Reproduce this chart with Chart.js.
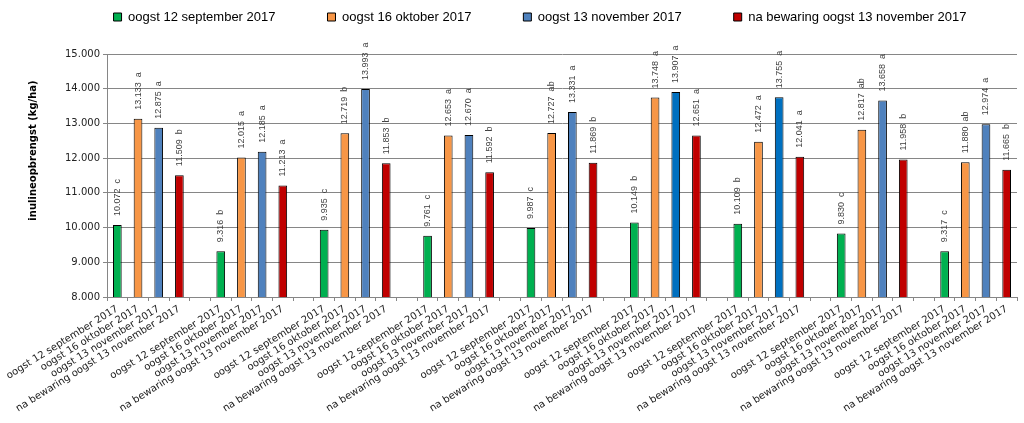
<!DOCTYPE html>
<html><head><meta charset="utf-8">
<script src="https://cdn.jsdelivr.net/npm/chart.js@4"></script>
<style>html,body{margin:0;padding:0;background:#fff}#wrap{width:1024px;height:423px}</style>
</head><body><div id="wrap"><canvas id="c" width="1024" height="423"></canvas></div>
<script>
// ---- data ----
const seriesNames = ['oogst 12 september 2017', 'oogst 16 oktober 2017', 'oogst 13 november 2017', 'na bewaring oogst 13 november 2017'];
const sep12 = [10072, 9316, 9935, 9761, 9987, 10149, 10109, 9830, 9317];
const okt16 = [13133, 12015, 12719, 12653, 12727, 13748, 12472, 12817, 11880];
const nov13 = [12875, 12185, 13993, 12670, 13331, 13907, 13755, 13658, 12974];
const naBewaring = [11509, 11213, 11853, 11592, 11869, 12651, 12041, 11958, 11665];
const sep12Letters = ['c', 'b', 'c', 'c', 'c', 'b', 'b', 'c', 'c'];
const okt16Letters = ['a', 'a', 'b', 'a', 'ab', 'a', 'a', 'ab', 'ab'];
const nov13Letters = ['a', 'a', 'a', 'a', 'a', 'a', 'a', 'a', 'a'];
const naBewaringLetters = ['b', 'a', 'b', 'b', 'b', 'a', 'a', 'b', 'b'];
const yMin = 8000, yMax = 15000, yStep = 1000;

// ---- styles ----
const green = '#00B050', orange = '#F79646', blue = '#4F81BD', darkBlue = '#0070C0', red = '#C00000';
const nov13Colors = [blue, blue, blue, blue, blue, darkBlue, darkBlue, blue, blue];

// ---- build category table: 4 bars per group, one empty category between groups ----
const nGroups = sep12.length;
const labels = [];
for (let g = 0; g < nGroups; g++) {
  seriesNames.forEach(n => labels.push(n));
  if (g < nGroups - 1) labels.push('');
}
function spread(values, s) {
  const out = new Array(labels.length).fill(null);
  values.forEach((v, g) => { out[g * 5 + s] = v; });
  return out;
}
function spreadArr(arr, s, fill) {
  const out = new Array(labels.length).fill(fill);
  arr.forEach((v, g) => { out[g * 5 + s] = v; });
  return out;
}
const seriesValues = [sep12, okt16, nov13, naBewaring];
const seriesLetters = [sep12Letters, okt16Letters, nov13Letters, naBewaringLetters];
const seriesColors = [green, orange, nov13Colors, red];
const legendColors = [green, orange, blue, red];

const datasets = seriesValues.map((vals, s) => ({
  label: seriesNames[s],
  data: spread(vals, s),
  letters: spreadArr(seriesLetters[s], s, ''),
  backgroundColor: Array.isArray(seriesColors[s]) ? spreadArr(seriesColors[s], s, blue) : seriesColors[s],
  borderColor: '#000',
  borderWidth: 1,
  grouped: false,
  categoryPercentage: 1,
  barPercentage: 0.42
}));

function fmt(v) {
  const s = String(Math.round(v));
  return s.replace(/\B(?=(\d{3})+(?!\d))/g, '.');
}

const valueLabels = {
  id: 'valueLabels',
  afterDatasetsDraw(chart) {
    const ctx = chart.ctx;
    ctx.save();
    ctx.font = '9px "Liberation Sans", Arial, sans-serif';
    ctx.fillStyle = '#404040';
    ctx.textAlign = 'left';
    ctx.textBaseline = 'middle';
    chart.data.datasets.forEach((ds, di) => {
      const meta = chart.getDatasetMeta(di);
      meta.data.forEach((el, i) => {
        const v = ds.data[i];
        if (v === null || v === undefined) return;
        ctx.save();
        ctx.translate(el.x, el.y - 9);
        ctx.rotate(-Math.PI / 2);
        ctx.fillText(fmt(v) + '  ' + ds.letters[i], 0, 0);
        ctx.restore();
      });
    });
    ctx.restore();
  }
};

function patchLegend(chart) {
  const lg = chart.legend;
  if (!lg || lg._patched) return;
  const orig = lg.fit;
  lg.fit = function () { orig.call(this); this.height = 54; };
  lg._patched = true;
}
const layoutTweak = {
  id: 'layoutTweak',
  beforeInit(chart) { patchLegend(chart); },
  beforeUpdate(chart) { patchLegend(chart); },
  afterLayout(chart) {
    const lg = chart.legend;
    if (lg) { lg.left = 56; lg.right = 1024; lg.top = 10.5 - 52; }
    const y = chart.scales.y;
    if (y && !y._titlePatched) {
      const o = y.drawTitle;
      y.drawTitle = function () {
        const c = this.ctx; c.save(); c.translate(0, -25); o.apply(this, arguments); c.restore();
      };
      y._titlePatched = true;
    }
  }
};

new Chart(document.getElementById('c'), {
  type: 'bar',
  data: { labels, datasets },
  options: {
    responsive: false,
    devicePixelRatio: 1,
    animation: false,
    layout: { padding: { left: 0, right: 7, top: 0, bottom: 0 } },
    plugins: {
      legend: {
        position: 'top',
        labels: {
          font: { family: '"Liberation Sans", Arial, sans-serif', size: 13 },
          color: '#000',
          boxWidth: 8,
          boxHeight: 8,
          padding: 52,
          generateLabels: chart => chart.data.datasets.map((d, i) => ({
            text: d.label, fillStyle: legendColors[i], strokeStyle: '#000', lineWidth: 1,
            hidden: false, datasetIndex: i, fontColor: '#000'
          }))
        }
      },
      tooltip: { enabled: false }
    },
    scales: {
      x: {
        afterFit: s => { s.height = 126; },
        grid: { display: true, drawOnChartArea: false, offset: true, tickLength: 4, color: '#868686' },
        border: { color: '#868686' },
        ticks: {
          autoSkip: false, maxRotation: 32, minRotation: 32, padding: 2,
          font: { family: '"DejaVu Sans", Verdana, sans-serif', size: 10 }, color: '#222'
        }
      },
      y: {
        min: yMin, max: yMax,
        afterFit: s => { s.width = 107; },
        grid: { color: '#868686', tickLength: 4 },
        border: { color: '#868686' },
        ticks: {
          stepSize: yStep, padding: 3,
          font: { family: '"DejaVu Sans", Verdana, sans-serif', size: 10 }, color: '#222',
          callback: v => fmt(v)
        },
        title: {
          display: true, text: 'inulineopbrengst (kg/ha)',
          font: { family: '"DejaVu Sans", Verdana, sans-serif', size: 10, weight: 'bold' },
          color: '#000', padding: { top: 27, bottom: 0 }
        }
      }
    }
  },
  plugins: [valueLabels, layoutTweak]
});
</script></body></html>
